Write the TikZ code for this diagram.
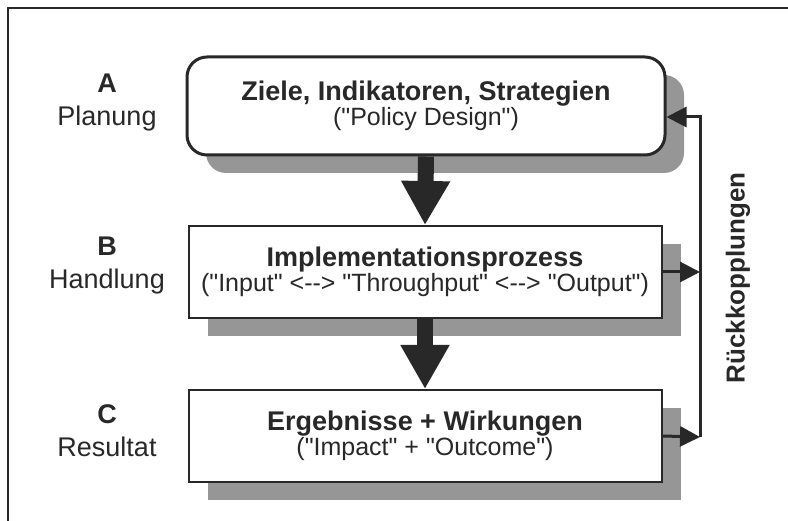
\documentclass[tikz,border=0pt]{standalone}
\usepackage{fontspec}
\setmainfont{Liberation Sans}[Ligatures=TeXOff]
\usetikzlibrary{arrows.meta, shadows}
\definecolor{ink}{RGB}{40,40,40}
\definecolor{shade}{RGB}{150,150,150}
\tikzstyle{goalbox} = [rectangle, rounded corners=20pt,
minimum width=478pt, minimum height=98pt,
text centered, align=center, line width=3pt,
draw=ink, fill=white, text=ink,
drop shadow={shadow xshift=19pt, shadow yshift=-18pt, fill=shade, opacity=1}]
\tikzstyle{stagebox} = [rectangle,
minimum width=473pt, minimum height=92pt,
text centered, align=center, line width=2pt,
draw=ink, fill=white, text=ink,
drop shadow={shadow xshift=19pt, shadow yshift=-18pt, fill=shade, opacity=1}]
\tikzstyle{level} = [align=center, text=ink, font=\fontsize{27}{33}\selectfont]
\tikzstyle{bigarrow} = [line width=16pt, draw=ink, -{Triangle[width=46pt,length=44pt]}]
\tikzstyle{fbarrow} = [line width=3pt, draw=ink, -{Triangle[width=20pt,length=20pt]}]
\newcommand{\boxtitle}[2]{{\fontsize{27}{31}\selectfont\bfseries #1}\\{\fontsize{25}{31}\selectfont #2}}

\begin{document}
\begin{tikzpicture}[x=1pt,y=-1pt]
\useasboundingbox (0,0) rectangle (788,521);
% frame of the scan
\draw[line width=1.5pt, draw=ink] (788,8) -- (8,8) -- (8,521);

\node (a) [goalbox] at (426,106) {\boxtitle{Ziele, Indikatoren, Strategien}{("Policy Design")}};
\node (b) [stagebox, below of=a, node distance=166pt, xshift=-1pt] {\boxtitle{Implementationsprozess}{("Input" <--> "Throughput" <--> "Output")}};
\node (c) [stagebox, below of=b, node distance=164pt] {\boxtitle{Ergebnisse + Wirkungen}{("Impact" + "Outcome")}};

\node (la) [level] at (107,103) {\textbf{A}\\Planung};
\node (lb) [level] at (107,266) {\textbf{B}\\Handlung};
\node (lc) [level] at (107,431) {\textbf{C}\\Resultat};

\coordinate (fbtop) at (700,117);
\coordinate (fbbot) at (700,437);
\node (fb) [rotate=90, text=ink, font=\fontsize{26}{30}\selectfont\bfseries] at (738,278) {Rückkopplungen};

\draw [bigarrow] (a.south) -- (b.north);
\draw [bigarrow] (b.south) -- (c.north);
\draw [fbarrow] (b.east) -- (b.east -| fbtop);
\draw [fbarrow] (c.east) -- (fbbot);
\draw [fbarrow] (fbbot) -- (fbtop) -- (fbtop -| a.east);

\end{tikzpicture}
\end{document}
